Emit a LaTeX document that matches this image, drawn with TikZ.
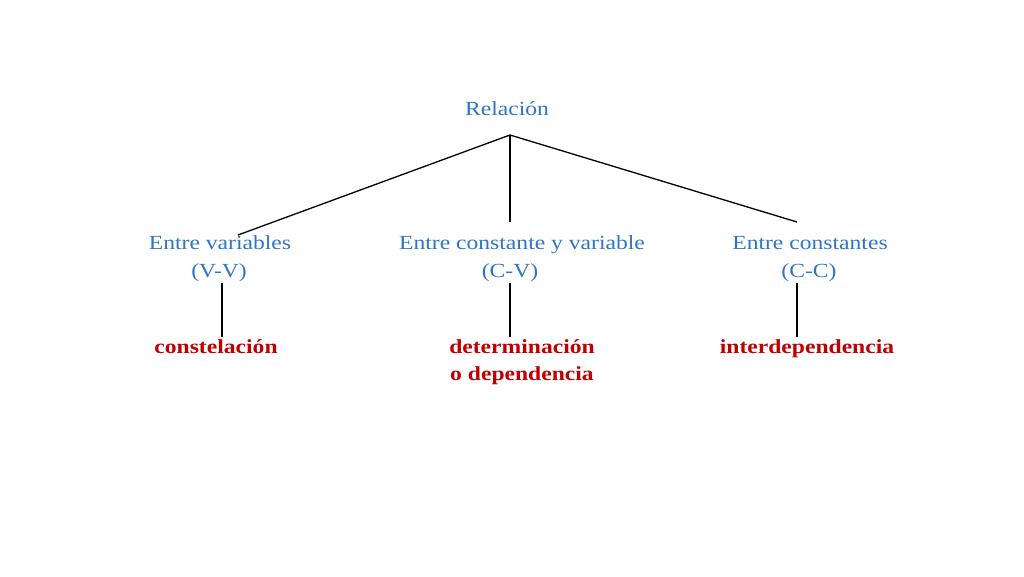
\documentclass[tikz,border=0pt]{standalone}
\usepackage{fontspec}
\setmainfont[FakeStretch=1.18]{Liberation Serif}
\definecolor{relblue}{HTML}{2E75C6}
\definecolor{relred}{HTML}{C00000}
\tikzset{
  blue label/.style={text=relblue, font=\fontsize{20}{24}\selectfont, inner sep=0pt, anchor=base},
  red label/.style={text=relred, font=\fontsize{20}{27}\selectfont\bfseries, inner sep=0pt, align=center, anchor=north},
  branch/.style={draw=black, line width=1.3pt}
}

\begin{document}
\begin{tikzpicture}[x=1pt,y=-1pt]
	\useasboundingbox (0,0) rectangle (1024,576);

	% top of the tree
	\node[blue label] (rel) at (507,115) {Relación};
	\coordinate (apex) at (510,135);

	% the three kinds
	\node[blue label] (vv) at (220,249) {Entre variables};
	\node[blue label] (vvshort) at (219,277) {(V-V)};
	\node[blue label] (cv) at (522,249) {Entre constante y variable};
	\node[blue label] (cvshort) at (510,277) {(C-V)};
	\node[blue label] (cc) at (810,249) {Entre constantes};
	\node[blue label] (ccshort) at (809,277) {(C-C)};

	\coordinate (vvend) at (238,235);
	\coordinate (cvend) at (510,222);
	\coordinate (ccend) at (797,222);

	% names of the relations
	\node[red label] (constel) at (216,339) {constelación};
	\node[red label] (determ) at (522,339) {determinación\\o dependencia};
	\node[red label] (interdep) at (807,339) {interdependencia};

	\draw[branch] (apex) -- (vvend);
	\draw[branch] (apex) -- (cvend);
	\draw[branch] (apex) -- (ccend);

	\draw[branch] ([xshift=3pt,yshift=-2pt]vvshort.south) -- ([xshift=3pt,yshift=2pt]vvshort.south |- constel.north);
	\draw[branch] ([yshift=-2pt]cvshort.south) -- ([yshift=2pt]cvshort.south |- determ.north);
	\draw[branch] ([xshift=-12pt,yshift=-2pt]ccshort.south) -- ([xshift=-12pt,yshift=2pt]ccshort.south |- interdep.north);
\end{tikzpicture}
\end{document}
